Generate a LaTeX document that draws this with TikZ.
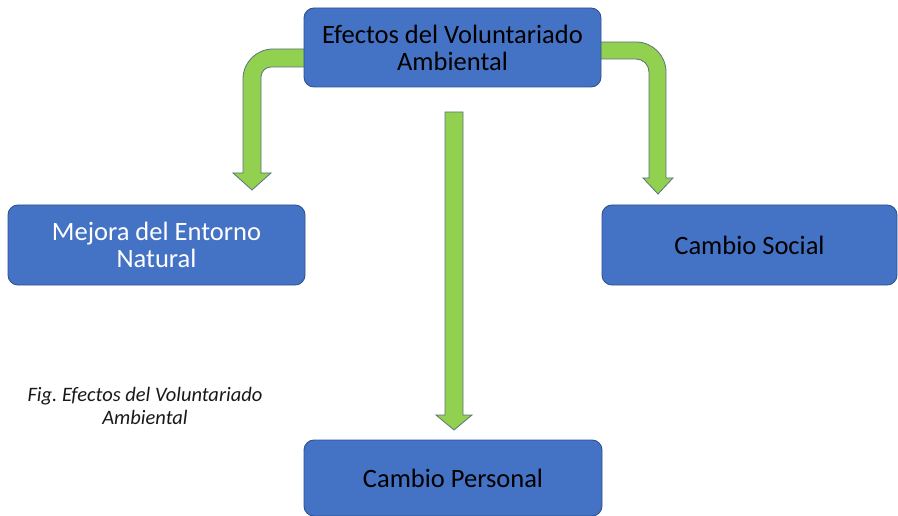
\documentclass[tikz,border=0pt]{standalone}
\usepackage{fontspec}
\setmainfont{Carlito}
\frenchspacing
\definecolor{boxfill}{HTML}{4472C4}
\definecolor{boxline}{HTML}{2F528F}
\definecolor{arrfill}{HTML}{92D050}
\definecolor{arrline}{HTML}{5E7180}
\begin{document}
\begin{tikzpicture}[x=1pt,y=-1pt,
  box/.style={draw=boxline,line width=0.9pt,fill=boxfill,rounded corners=10pt,align=center,inner sep=0pt,font=\fontsize{26.5}{27}\selectfont},
  blockarrow/.style={draw=arrline,line width=0.8pt,fill=arrfill,line join=miter}]
\useasboundingbox (0,0) rectangle (898,516);
% block arrows (drawn under the boxes)
\draw[blockarrow] (312,49) -- (273,49) .. controls (256.4,49) and (243,62.4) .. (243,79)
  -- (243,173) -- (233,173) -- (252,190) -- (271,173) -- (261,173) -- (261,77)
  .. controls (261,71.5) and (265.5,67) .. (271,67) -- (312,67) -- cycle;
\draw[blockarrow] (594,42) -- (636,42) .. controls (652.6,42) and (666,55.4) .. (666,72)
  -- (666,178) -- (673,178) -- (658,194) -- (643,178) -- (649,178) -- (649,72)
  .. controls (649,64.8) and (643.2,59) .. (636,59) -- (594,59) -- cycle;
\draw[blockarrow] (445,112) -- (463,112) -- (463,415) -- (472,415) -- (454,430)
  -- (436,415) -- (445,415) -- cycle;
% boxes
\node[box,minimum width=297pt,minimum height=79pt,text=black] (top) at (452.5,47.5)
  {Efectos del Voluntariado\\Ambiental};
\node[box,minimum width=297pt,minimum height=80pt,text=white] (left) at (156.5,245)
  {Mejora del Entorno\\Natural};
\node[box,minimum width=295pt,minimum height=80pt,text=black] (right) at (749.5,245)
  {Cambio Social};
\node[box,minimum width=298pt,minimum height=76pt,text=black] (bottom) at (453,478)
  {Cambio Personal};
% caption
\node[align=center,inner sep=0pt,font=\itshape\fontsize{20.5}{23}\selectfont,text=black!90] (cap) at (145,406)
  {Fig. Efectos del Voluntariado\\Ambiental};
\end{tikzpicture}
\end{document}
